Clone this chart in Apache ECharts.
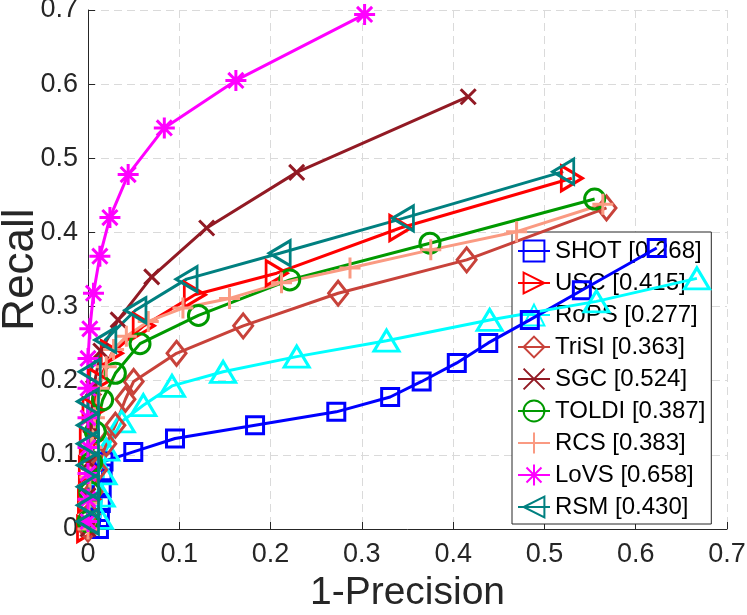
<!DOCTYPE html>
<html><head><meta charset="utf-8">
<script src="https://cdn.jsdelivr.net/npm/echarts@6/dist/echarts.min.js"></script>
<style>html,body{margin:0;padding:0;background:#fff}#c{width:747px;height:615px}</style>
</head><body><div id="c"></div>
<script>
// ---- data ----
const methods = ['SHOT', 'USC', 'RoPS', 'TriSI', 'SGC', 'TOLDI', 'RCS', 'LoVS', 'RSM'];
const aucs = ['0.268', '0.415', '0.277', '0.363', '0.524', '0.387', '0.383', '0.658', '0.430'];
const xTicks = [0, 0.1, 0.2, 0.3, 0.4, 0.5, 0.6, 0.7];
const yTicks = [0, 0.1, 0.2, 0.3, 0.4, 0.5, 0.6, 0.7];

const SHOT = [[0.012,0.0],[0.013,0.015],[0.014,0.035],[0.015,0.055],[0.016,0.075],[0.017,0.091],[0.0496,0.104],[0.0953,0.122],[0.183,0.140],[0.272,0.158],[0.331,0.178],[0.3655,0.199],[0.404,0.224],[0.4385,0.251],[0.484,0.282],[0.541,0.322],[0.623,0.379]];
const USC = [[0.0,0.0],[0.001,0.04],[0.002,0.08],[0.003,0.12],[0.006,0.16],[0.012,0.20],[0.026,0.237],[0.061,0.274],[0.117,0.316],[0.2066,0.345],[0.342,0.406],[0.53,0.473]];
const RoPS = [[0.013,0.015],[0.015,0.045],[0.017,0.075],[0.02,0.107],[0.037,0.145],[0.0606,0.167],[0.092,0.193],[0.148,0.212],[0.2286,0.2325],[0.327,0.254],[0.440,0.282],[0.557,0.307],[0.667,0.338]];
const TriSI = [[0.0,0.0],[0.002,0.02],[0.005,0.05],[0.01,0.08],[0.02,0.115],[0.03,0.14],[0.041,0.175],[0.05,0.199],[0.097,0.237],[0.170,0.274],[0.274,0.318],[0.4148,0.363],[0.568,0.433]];
const SGC = [[0.0,0.0],[0.0,0.045],[0.001,0.09],[0.003,0.14],[0.006,0.19],[0.014,0.24],[0.033,0.282],[0.0698,0.340],[0.130,0.406],[0.2286,0.481],[0.4165,0.583]];
const TOLDI = [[0.0,0.01],[0.002,0.05],[0.004,0.09],[0.008,0.131],[0.016,0.174],[0.03,0.21],[0.057,0.25],[0.121,0.288],[0.221,0.336],[0.3746,0.3855],[0.555,0.445]];
const RCS = [[0.0,0.0],[0.001,0.035],[0.002,0.07],[0.004,0.11],[0.007,0.15],[0.012,0.19],[0.02,0.219],[0.028,0.242],[0.042,0.26],[0.066,0.28],[0.104,0.298],[0.155,0.311],[0.212,0.332],[0.287,0.352],[0.3755,0.3765],[0.4695,0.401],[0.564,0.438]];
const LoVS = [[0.0,0.01],[0.0,0.04],[0.0,0.075],[0.0,0.11],[0.0,0.15],[0.0,0.19],[0.0,0.230],[0.002,0.270],[0.006,0.318],[0.013,0.368],[0.024,0.42],[0.044,0.478],[0.0836,0.541],[0.162,0.605],[0.303,0.694]];
const RSM = [[0.0,0.01],[0.0,0.032],[0.0,0.057],[0.0,0.086],[0.0,0.115],[0.0,0.140],[0.0,0.172],[0.002,0.212],[0.019,0.255],[0.052,0.295],[0.108,0.337],[0.210,0.372],[0.345,0.419],[0.5206,0.482]];
const seriesData = [SHOT, USC, RoPS, TriSI, SGC, TOLDI, RCS, LoVS, RSM];

// ---- styles ----
const colors = ['#0000FF', '#FF0000', '#00FFFF', '#C8423A', '#921A24', '#009900', '#FA9A82', '#FF00FF', '#008080'];
const symbols = [
  'path://M-1,-1L1,-1L1,1L-1,1Z',
  'path://M-1,-1L1,0L-1,1Z',
  'path://M0,-1L1,1L-1,1Z',
  'path://M0,-1L1,0L0,1L-1,0Z',
  'path://M-1,-1L1,1M-1,1L1,-1',
  'circle',
  'path://M0,-1L0,1M-1,0L1,0',
  'path://M0,-1L0,1M-1,0L1,0M-0.72,-0.72L0.72,0.72M-0.72,0.72L0.72,-0.72',
  'path://M1,-1L-1,0L1,1Z'
];
const sizes = [[17,17],[21,25],[25,21],[19,24],[15,15],[20,20],[21,21],[21,21],[21,25]];

const chart = echarts.init(document.getElementById('c'), null, {renderer: 'canvas'});
const names = methods.map((m, i) => m + ' [' + aucs[i] + ']');
const txt = '#262626';
const font = "'Liberation Sans', Arial, sans-serif";
const axisCommon = {
  type: 'value', min: 0, max: 0.7, interval: 0.1,
  axisLine: {show: true, onZero: false, lineStyle: {color: txt, width: 1}},
  axisTick: {show: true, inside: true, length: 7, lineStyle: {color: txt}},
  splitLine: {show: true, lineStyle: {color: '#DADADA', width: 1, type: [8, 5]}},
  axisLabel: {color: txt, fontSize: 27, fontFamily: font},
  nameTextStyle: {color: txt, fontSize: 39, fontFamily: font},
  nameMoveOverlap: false
};
chart.setOption({
  animation: false,
  backgroundColor: '#fff',
  grid: {left: 88, right: 20, top: 10, bottom: 86, containLabel: false, outerBoundsMode: 'none'},
  xAxis: Object.assign({}, axisCommon, {
    name: '1-Precision', nameLocation: 'middle', nameGap: 45,
    axisLabel: Object.assign({}, axisCommon.axisLabel, {margin: 12, formatter: v => String(+v.toFixed(1))})
  }),
  yAxis: Object.assign({}, axisCommon, {
    name: 'Recall', nameLocation: 'middle', nameGap: 45,
    nameTextStyle: {color: txt, fontSize: 44, fontFamily: font},
    axisLabel: Object.assign({}, axisCommon.axisLabel, {margin: 10, formatter: v => String(+v.toFixed(1))})
  }),
  legend: {
    orient: 'vertical', left: 512, top: 232, z: 1,
    backgroundColor: '#fff', borderColor: txt, borderWidth: 1, borderRadius: 0,
    padding: [6, 6, 4, 5], itemGap: 6, itemWidth: 32, itemHeight: 26,
    textStyle: {color: '#000', fontSize: 24, lineHeight: 26, fontFamily: font},
    data: names
  },
  series: seriesData.map((d, i) => ({
    name: names[i], type: 'line', data: d, z: 2,
    symbol: symbols[i], symbolSize: sizes[i], showAllSymbol: true, clip: false,
    lineStyle: {color: colors[i], width: 3},
    itemStyle: {color: 'rgba(0,0,0,0)', borderColor: colors[i], borderWidth: 3},
    emphasis: {disabled: true}
  }))
});
</script></body></html>
